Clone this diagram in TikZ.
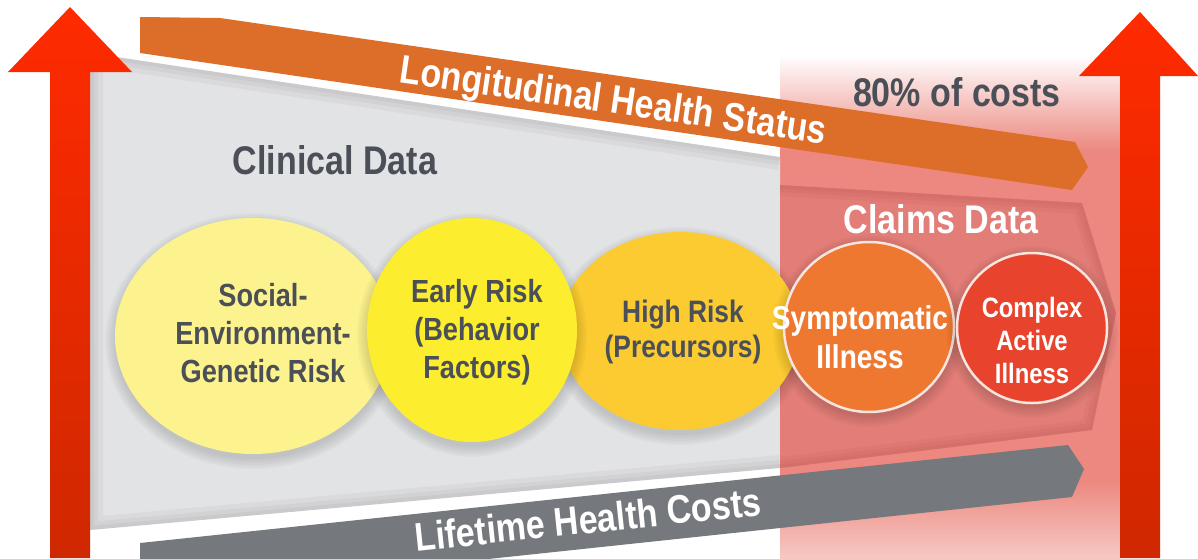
\documentclass[tikz,border=0pt]{standalone}
\usepackage{fontspec}
\newfontfamily\cnd{Liberation Sans}[FakeStretch=0.85]
\usetikzlibrary{shapes.geometric}
\definecolor{redtop}{HTML}{FF2A00}
\definecolor{redbot}{HTML}{CF2800}
\definecolor{panelgray}{HTML}{E2E3E5}
\definecolor{bandorange}{HTML}{DD6E2A}
\definecolor{bandgray}{HTML}{75787D}
\definecolor{pinkbg}{HTML}{EC8880}
\definecolor{pinklow}{HTML}{F6C8C2}
\definecolor{pinkpanel}{HTML}{E37D77}
\definecolor{pinkedge}{HTML}{B85450}
\definecolor{txtdark}{HTML}{4A4F58}
\definecolor{yellowA}{HTML}{FCF28E}
\definecolor{yellowB}{HTML}{FCEE2E}
\definecolor{yellowC}{HTML}{FBCB31}
\definecolor{orangeC}{HTML}{EF7830}
\definecolor{redC}{HTML}{E8442D}
\definecolor{ringcol}{HTML}{F8E4DE}
\newcommand\mysoftshadow[4]{%
  \foreach \k in {0,2,...,10}{\fill[black,opacity=0.022] (#1,#2) ellipse [x radius=#3+\k, y radius=#4+\k];}}
\begin{document}
\begin{tikzpicture}[x=1pt,y=-1pt,
  head/.style={font=\cnd\bfseries\fontsize{40}{44}\selectfont, inner sep=0pt},
  circtext/.style={font=\cnd\bfseries\fontsize{32}{38}\selectfont, align=center, inner sep=0pt, text=txtdark},
  blob/.style={ellipse, inner sep=0pt, draw=none},
  ring/.style={circle, inner sep=0pt, draw=ringcol, line width=2.5pt},
  redarrow/.style={top color=redtop, bottom color=redbot},
]
\useasboundingbox (0,0) rectangle (1198,558);
\clip (0,0) rectangle (1198,558);
\fill[white] (0,0) rectangle (1198,558);

% pink cost region
\fill[pinkbg] (780,149.5) rectangle (1120,480.5);
\shade[top color=white, bottom color=pinkbg] (780,55) rectangle (1120,150);
\shade[top color=pinkbg, bottom color=pinklow] (780,480) rectangle (1120,558);

% grey clinical panel
\fill[panelgray] (90,53) -- (780,157) -- (780,468) -- (90,530) -- cycle;
\begin{scope}
  \clip (90,53) -- (780,157) -- (780,468) -- (90,530) -- cycle;
  \foreach \w in {26,16,8}{\draw[black,opacity=0.035,line width=\w pt] (780,157) -- (90,53) -- (90,530) -- (780,468);}
\end{scope}

% claims panel
\fill[pinkpanel] (780,185) -- (1082,203) -- (1116,313) -- (1092,430) -- (780,468) -- cycle;
\begin{scope}
  \clip (780,185) -- (1082,203) -- (1116,313) -- (1092,430) -- (780,468) -- cycle;
  \foreach \w in {22,14,7}{\draw[pinkedge,opacity=0.12,line width=\w pt] (780,185) -- (1082,203) -- (1116,313) -- (1092,430) -- (780,468);}
\end{scope}

% bands
\fill[bandorange] (140,17) -- (220,18) -- (1075,142) -- (1088,167) -- (1072,190) -- (140,53) -- cycle;
\fill[bandgray] (140,543) -- (1068,445) -- (1084,469) -- (1072,497) -- (140,596) -- cycle;

% stages
\mysoftshadow{253}{341}{138}{118}
\node[blob, fill=yellowA, minimum width=276pt, minimum height=236pt] (e1) at (253,336) {};
\mysoftshadow{680}{336}{120}{99}
\node[blob, fill=yellowC, minimum width=240pt, minimum height=198pt] (e3) at (680,331) {};
\mysoftshadow{472}{335}{105}{112}
\node[blob, fill=yellowB, minimum width=210pt, minimum height=224pt] (e2) at (472,330) {};
\mysoftshadow{869}{331}{86}{86}
\node[ring, fill=orangeC, minimum size=170pt] (c4) at (869,327) {};
\mysoftshadow{1032}{332}{76}{76}
\node[ring, fill=redC, minimum size=150pt] (c5) at (1032,328) {};

% texts
\node[head, text=white, rotate=-8.3] (lhs) at (613,103) {Longitudinal Health Status};
\node[head, text=txtdark] (cd) at (335,160) {Clinical Data};
\node[head, text=txtdark] (cost) at (957,92) {80\% of costs};
\node[head, text=white] (cl) at (941,219) {Claims Data};
\node[head, text=white, rotate=6] (lhc) at (588,519) {Lifetime Health Costs};

\node[circtext] (t1) at (263,333) {Social-\\Environment-\\Genetic Risk};
\node[circtext] (t2) at (477,332) {Early Risk\\(Behavior\\Factors)};
\node[circtext, font=\cnd\bfseries\fontsize{31}{35}\selectfont] (t3) at (683,332) {High Risk\\(Precursors)};
\node[circtext, text=white, font=\cnd\bfseries\fontsize{33}{39}\selectfont] (t4) at (860,337) {Symptomatic\\Illness};
\node[circtext, text=white, font=\cnd\bfseries\fontsize{28}{33}\selectfont] (t5) at (1032,340) {Complex\\Active\\Illness};

% red arrows
\shade[redarrow] (50,558) -- (50,72) -- (8,72) -- (70,7) -- (132,72) -- (90,72) -- (90,558) -- cycle;
\shade[redarrow] (1120,558) -- (1120,76) -- (1079,76) -- (1140,12) -- (1198,76) -- (1160,76) -- (1160,558) -- cycle;
\end{tikzpicture}
\end{document}
